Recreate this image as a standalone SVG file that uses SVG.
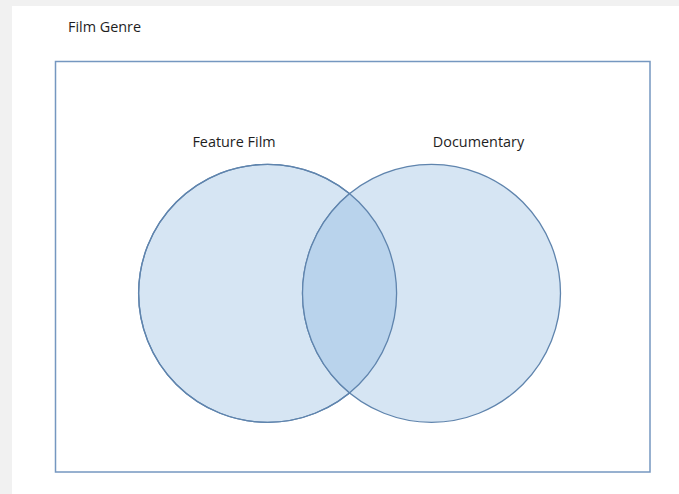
<svg xmlns="http://www.w3.org/2000/svg" width="679" height="494" viewBox="0 0 679 494">
<style>
  .lbl { font-family: "Open Sans", "Liberation Sans", sans-serif; font-size: 14.4px; fill: #1e1e1e; }
  .set { fill: #d6e5f3; stroke: #5f84ad; stroke-width: 1.3; }
  .lens { fill: #b9d3ec; stroke: #5f84ad; stroke-width: 1.3; }
</style>
<defs>
  <clipPath id="clipLeft"><circle cx="267.6" cy="293.3" r="129"/></clipPath>
</defs>
<rect x="0" y="0" width="679" height="494" fill="#f1f1f1"/>
<rect x="12" y="6" width="667" height="488" fill="#ffffff"/>
<text class="lbl" x="68" y="32">Film Genre</text>
<g id="universe">
  <rect x="55.5" y="61.5" width="594.5" height="410.5" fill="none" stroke="#7597c0" stroke-width="1.5"/>
</g>
<g id="feature-film">
  <circle class="set" cx="267.6" cy="293.3" r="129"/>
  <text class="lbl" x="234" y="147" text-anchor="middle">Feature Film</text>
</g>
<g id="documentary">
  <circle class="set" cx="431.5" cy="293.3" r="129"/>
  <text class="lbl" x="478.5" y="147" text-anchor="middle">Documentary</text>
</g>
<g id="intersection">
  <circle class="lens" cx="431.5" cy="293.3" r="129" clip-path="url(#clipLeft)"/>
  <circle cx="267.6" cy="293.3" r="129" fill="none" stroke="#5f84ad" stroke-width="1.3"/>
</g>
<g id="connectors"></g>
</svg>
